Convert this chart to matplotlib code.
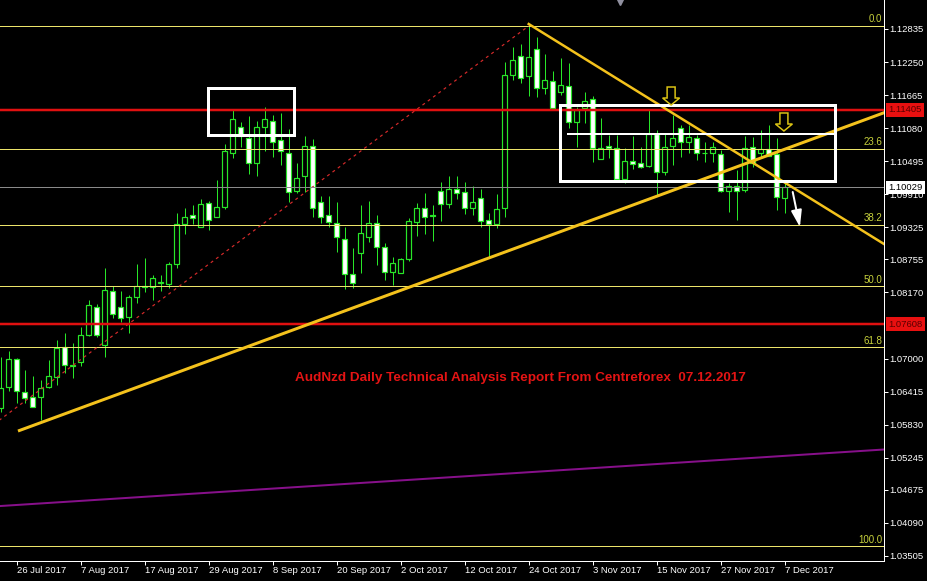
import matplotlib
matplotlib.use('Agg')
import matplotlib.pyplot as plt
import numpy as np
import pandas as pd
from matplotlib.patches import Rectangle, Polygon
from matplotlib.transforms import ScaledTranslation

plt.rcParams['font.family'] = ['Liberation Sans', 'DejaVu Sans']

# ---------------- data ----------------
dates = pd.bdate_range('2017-07-24', periods=99)

opens = [1.06124, 1.06496, 1.06992, 1.06408, 1.06319, 1.06319, 1.06496, 1.06673, 1.07204, 1.06868,
         1.06939, 1.07417, 1.07913, 1.07240, 1.08196, 1.07913, 1.07736, 1.08090, 1.08267, 1.08267,
         1.08338, 1.08320, 1.08674, 1.09382, 1.09541, 1.09329, 1.09754, 1.09506, 1.09683, 1.10639,
         1.11100, 1.10905, 1.10462, 1.11100, 1.11206, 1.10869, 1.10639, 1.09966, 1.10232, 1.10763,
         1.09772, 1.09541, 1.09400, 1.09117, 1.08497, 1.08869, 1.09152, 1.09400, 1.08975, 1.08532,
         1.08515, 1.08762, 1.09418, 1.09665, 1.09541, 1.09966, 1.09736, 1.10002, 1.09949, 1.09665,
         1.09842, 1.09453, 1.09382, 1.09665, 1.12020, 1.12357, 1.12002, 1.12481, 1.11790, 1.11914,
         1.11719, 1.11825, 1.11188, 1.11436, 1.11595, 1.10533, 1.10763, 1.10728, 1.10179, 1.10497,
         1.10462, 1.10409, 1.10976, 1.10303, 1.10763, 1.11082, 1.10834, 1.10905, 1.10639, 1.10639,
         1.10621, 1.09966, 1.10055, 1.09984, 1.10745, 1.10639, 1.10710, 1.10621, 1.09842]
highs = [1.07027, 1.07134, 1.07010, 1.06797, 1.06691, 1.06620, 1.06974, 1.07328, 1.07452, 1.07275,
         1.07559, 1.08037, 1.07966, 1.08603, 1.08284, 1.08196, 1.08125, 1.08674, 1.08780, 1.08479,
         1.08479, 1.08709, 1.09577, 1.09665, 1.09719, 1.09825, 1.09789, 1.10161, 1.10798, 1.11400,
         1.11188, 1.11294, 1.11206, 1.11454, 1.11312, 1.11347, 1.11064, 1.10462, 1.10940, 1.10887,
         1.09878, 1.09878, 1.09772, 1.09329, 1.08957, 1.09719, 1.09789, 1.09541, 1.09046, 1.08798,
         1.08780, 1.09488, 1.09754, 1.09931, 1.09719, 1.10126, 1.10232, 1.10232, 1.10126, 1.10055,
         1.10002, 1.09577, 1.09913, 1.12250, 1.12516, 1.12569, 1.12923, 1.12693, 1.12392, 1.12091,
         1.12321, 1.12233, 1.11454, 1.11719, 1.11648, 1.11259, 1.10958, 1.10958, 1.10728, 1.10940,
         1.10745, 1.11400, 1.11046, 1.10993, 1.11312, 1.11135, 1.11135, 1.10958, 1.10834, 1.10834,
         1.10692, 1.10108, 1.10338, 1.10940, 1.10922, 1.11046, 1.11135, 1.10905, 1.10108]
lows = [1.06054, 1.06425, 1.06213, 1.06213, 1.06142, 1.05912, 1.06479, 1.06532, 1.06744, 1.06656,
        1.06868, 1.07399, 1.07381, 1.07027, 1.07718, 1.07647, 1.07452, 1.07983, 1.08178, 1.08037,
        1.08196, 1.08249, 1.08603, 1.09205, 1.09382, 1.09329, 1.09276, 1.09506, 1.09648, 1.10551,
        1.10745, 1.10267, 1.10232, 1.10675, 1.10568, 1.10427, 1.09772, 1.09931, 1.09949, 1.09506,
        1.09400, 1.09329, 1.08886, 1.08231, 1.08249, 1.08515, 1.09063, 1.08656, 1.08391, 1.08302,
        1.08515, 1.08727, 1.09170, 1.09205, 1.09081, 1.09435, 1.09665, 1.09825, 1.09559, 1.09541,
        1.09329, 1.08780, 1.09311, 1.09506, 1.11932, 1.11879, 1.11648, 1.11631, 1.11684, 1.11436,
        1.11666, 1.11082, 1.10745, 1.11170, 1.10480, 1.10533, 1.10551, 1.10179, 1.10108, 1.10356,
        1.10374, 1.10391, 1.09896, 1.10250, 1.10427, 1.10568, 1.10639, 1.10515, 1.10480, 1.10480,
        1.09949, 1.09595, 1.09453, 1.09949, 1.10391, 1.10568, 1.10586, 1.09630, 1.09577]
closes = [1.06479, 1.06992, 1.06425, 1.06301, 1.06142, 1.06479, 1.06691, 1.07187, 1.06886, 1.06886,
          1.07417, 1.07948, 1.07417, 1.08214, 1.07789, 1.07718, 1.08090, 1.08284, 1.08284, 1.08426,
          1.08355, 1.08674, 1.09382, 1.09506, 1.09488, 1.09736, 1.09453, 1.09683, 1.10675, 1.11241,
          1.10940, 1.10462, 1.11100, 1.11241, 1.10834, 1.10675, 1.09949, 1.10196, 1.10763, 1.09665,
          1.09506, 1.09418, 1.09152, 1.08497, 1.08338, 1.09223, 1.09400, 1.08975, 1.08532, 1.08692,
          1.08762, 1.09435, 1.09665, 1.09506, 1.09524, 1.09736, 1.10002, 1.09931, 1.09665, 1.09772,
          1.09435, 1.09382, 1.09648, 1.12020, 1.12286, 1.11967, 1.12339, 1.11790, 1.11932, 1.11436,
          1.11843, 1.11188, 1.11400, 1.11560, 1.10728, 1.10728, 1.10728, 1.10179, 1.10497, 1.10444,
          1.10391, 1.10976, 1.10303, 1.10745, 1.10905, 1.10834, 1.10922, 1.10639, 1.10639, 1.10745,
          1.09966, 1.10055, 1.09966, 1.10728, 1.10462, 1.10710, 1.10586, 1.09860, 1.10037]

# Fibonacci retracement (swing low is off the left edge)
fib_high = 1.12888
fib_low = 1.03681
fib_high_bar = 66
fib_low_bar = -21.3
fib_levels = [0.0, 23.6, 38.2, 50.0, 61.8, 100.0]

red_levels = [1.11405, 1.07608]
bid_price = 1.10029

# trend lines: (bar, price) anchor pairs
up_trend_bars = [2.16, 61.0]
up_trend_prices = [1.05717, 1.08780]
down_trend_bars = [66.0, 110.41]
down_trend_prices = [1.12923, 1.09028]
purple_bars = [-0.09, 110.41]
purple_prices = [1.04389, 1.05390]

# boxes: (bar_left, bar_right, price_low, price_high)
box1 = (25.9, 36.66, 1.10958, 1.11790)
box2 = (69.9, 104.3, 1.10143, 1.11489)
range_line_bars = [70.9, 104.3]
range_line_price = 1.10984

y_ticks = [1.12835, 1.12250, 1.11665, 1.11080, 1.10495, 1.09910, 1.09325, 1.08755,
           1.08170, 1.07000, 1.06415, 1.05830, 1.05245, 1.04675, 1.04090, 1.03505]
x_tick_dates = ['2017-07-26', '2017-08-07', '2017-08-17', '2017-08-29', '2017-09-08',
                '2017-09-20', '2017-10-02', '2017-10-12', '2017-10-24', '2017-11-03',
                '2017-11-15', '2017-11-27', '2017-12-07']
x_tick_labels = ['26 Jul 2017', '7 Aug 2017', '17 Aug 2017', '29 Aug 2017', '8 Sep 2017',
                 '20 Sep 2017', '2 Oct 2017', '12 Oct 2017', '24 Oct 2017', '3 Nov 2017',
                 '15 Nov 2017', '27 Nov 2017', '7 Dec 2017']

title = 'AudNzd Daily Technical Analysis Report From Centreforex  07.12.2017'

# ---------------- figure ----------------
W, H = 928, 581
DPI = 100
PT = 72.0 / DPI  # points per pixel
fig = plt.figure(figsize=(W / DPI, H / DPI), dpi=DPI, facecolor='black')
ax = fig.add_axes([0, 20 / H, 884 / W, 561 / H], facecolor='black')

ax.set_xlim(-0.0875, 110.41)
ax.set_ylim(1.03416, 1.13348)

green = '#28e628'
x = np.arange(len(opens))
o = np.array(opens); h = np.array(highs); l = np.array(lows); c = np.array(closes)
bull = c >= o

ax.vlines(x, l, h, color=green, lw=1 * PT, zorder=2)
ax.bar(x[bull], (c - o)[bull], bottom=o[bull], width=0.68, facecolor='black',
       edgecolor=green, linewidth=1.2 * PT, zorder=2.1)
ax.bar(x[~bull], (o - c)[~bull], bottom=c[~bull], width=0.68, facecolor='white',
       edgecolor=green, linewidth=1.2 * PT, zorder=2.1)

# fib lines and labels
fib_line_color = '#ece46a'
fib_text_color = '#c8d23c'
for lev in fib_levels:
    p = fib_high - (fib_high - fib_low) * lev / 100.0
    ax.axhline(p, color=fib_line_color, lw=1 * PT, zorder=3)
    ax.annotate(f'{lev:.1f}', xy=(1.0, p), xycoords=('axes fraction', 'data'),
                xytext=(-2 * PT, 1.5 * PT), textcoords='offset points',
                ha='right', va='bottom', color=fib_text_color, fontsize=7, zorder=6)
ax.plot([fib_low_bar, fib_high_bar], [fib_low, fib_high], color='#d42a2a',
        lw=1.2 * PT, ls=(0, (2.5, 3)), zorder=3)

# red horizontal lines
for p in red_levels:
    ax.axhline(p, color='#e01010', lw=2.5 * PT, zorder=3.2)

# bid line
ax.axhline(bid_price, color='#8a8a8a', lw=1 * PT, zorder=3)

# trend lines (extended to the right edge)
def ray(bars, prices, x_end):
    slope = (prices[1] - prices[0]) / (bars[1] - bars[0])
    return [bars[0], x_end], [prices[0], prices[0] + slope * (x_end - bars[0])]

xs, ys = ray(up_trend_bars, up_trend_prices, 112)
ax.plot(xs, ys, color='#f4c21c', lw=3 * PT, zorder=3.5, solid_capstyle='butt')
ax.plot(down_trend_bars, down_trend_prices, color='#f4c21c', lw=2.5 * PT, zorder=3.5)
ax.plot(purple_bars, purple_prices, color='#86108a', lw=2 * PT, zorder=3)

# boxes
for (bl, br, pl, ph) in (box1, box2):
    ax.add_patch(Rectangle((bl, pl), br - bl, ph - pl, fill=False, edgecolor='white',
                           lw=3 * PT, zorder=4))
ax.plot(range_line_bars, [range_line_price] * 2, color='white', lw=2 * PT, zorder=4)

# hollow yellow arrows
def block_arrow(bx, by):
    v = np.array([(-4, 18), (4, 18), (4, 7), (8.5, 7), (0, 0), (-8.5, 7), (-4, 7)]) / DPI
    tr = fig.dpi_scale_trans + ScaledTranslation(bx, by, ax.transData)
    ax.add_patch(Polygon(v, closed=True, transform=tr, facecolor='black',
                         edgecolor='#dcc414', lw=1.5 * PT, zorder=5))

block_arrow(83.8, 1.11489)
block_arrow(97.9, 1.11029)

# white arrow
ax.annotate('', xy=(99.9, 1.09329), xytext=(99.0, 1.09949),
            arrowprops=dict(arrowstyle='-|>,head_length=1.0,head_width=0.32',
                            color='white', lw=2 * PT, shrinkA=0, shrinkB=0), zorder=5)

# title
ax.text(295 / 884, 1 - 378 / 561, title, transform=ax.transAxes, ha='left', va='center',
        color='#e41414', fontsize=9.7, fontweight='bold', zorder=6)

# small marker at top
ax.plot([620 / 884], [0.996], transform=ax.transAxes, marker='v', ms=4, color='#9090a0',
        clip_on=False, zorder=6)

# axes styling
for s in ('left', 'top'):
    ax.spines[s].set_visible(False)
for s in ('right', 'bottom'):
    ax.spines[s].set_color('white')
    ax.spines[s].set_linewidth(1 * PT)

ax.yaxis.tick_right()
ax.set_yticks(y_ticks)
ax.set_yticklabels([f'{v:.5f}' for v in y_ticks])
ax.tick_params(axis='y', colors='white', labelcolor='white', length=4 * PT, width=1 * PT,
               pad=1.5 * PT, labelsize=6.8)

tick_pos = [dates.get_loc(pd.Timestamp(d)) for d in x_tick_dates]
ax.set_xticks(tick_pos)
ax.set_xticklabels(x_tick_labels)
ax.tick_params(axis='x', colors='white', labelcolor='white', length=3.5 * PT, width=1 * PT,
               pad=1.5 * PT, labelsize=6.8)
for lbl in ax.get_xticklabels():
    lbl.set_ha('left')

# price labels on the right axis
def price_label(p, fc, tc):
    ax.annotate(f'{p:.5f}', xy=(1.0, p), xycoords=('axes fraction', 'data'),
                xytext=(4 * PT, 0), textcoords='offset points', ha='left', va='center',
                color=tc, fontsize=6.8, annotation_clip=False, zorder=10,
                bbox=dict(boxstyle='square,pad=0.25', facecolor=fc, edgecolor='none'))

price_label(red_levels[0], '#e81010', '#5a0000')
price_label(red_levels[1], '#e81010', '#5a0000')
price_label(bid_price, 'white', 'black')

fig.savefig('out.png', dpi=DPI, facecolor='black')
